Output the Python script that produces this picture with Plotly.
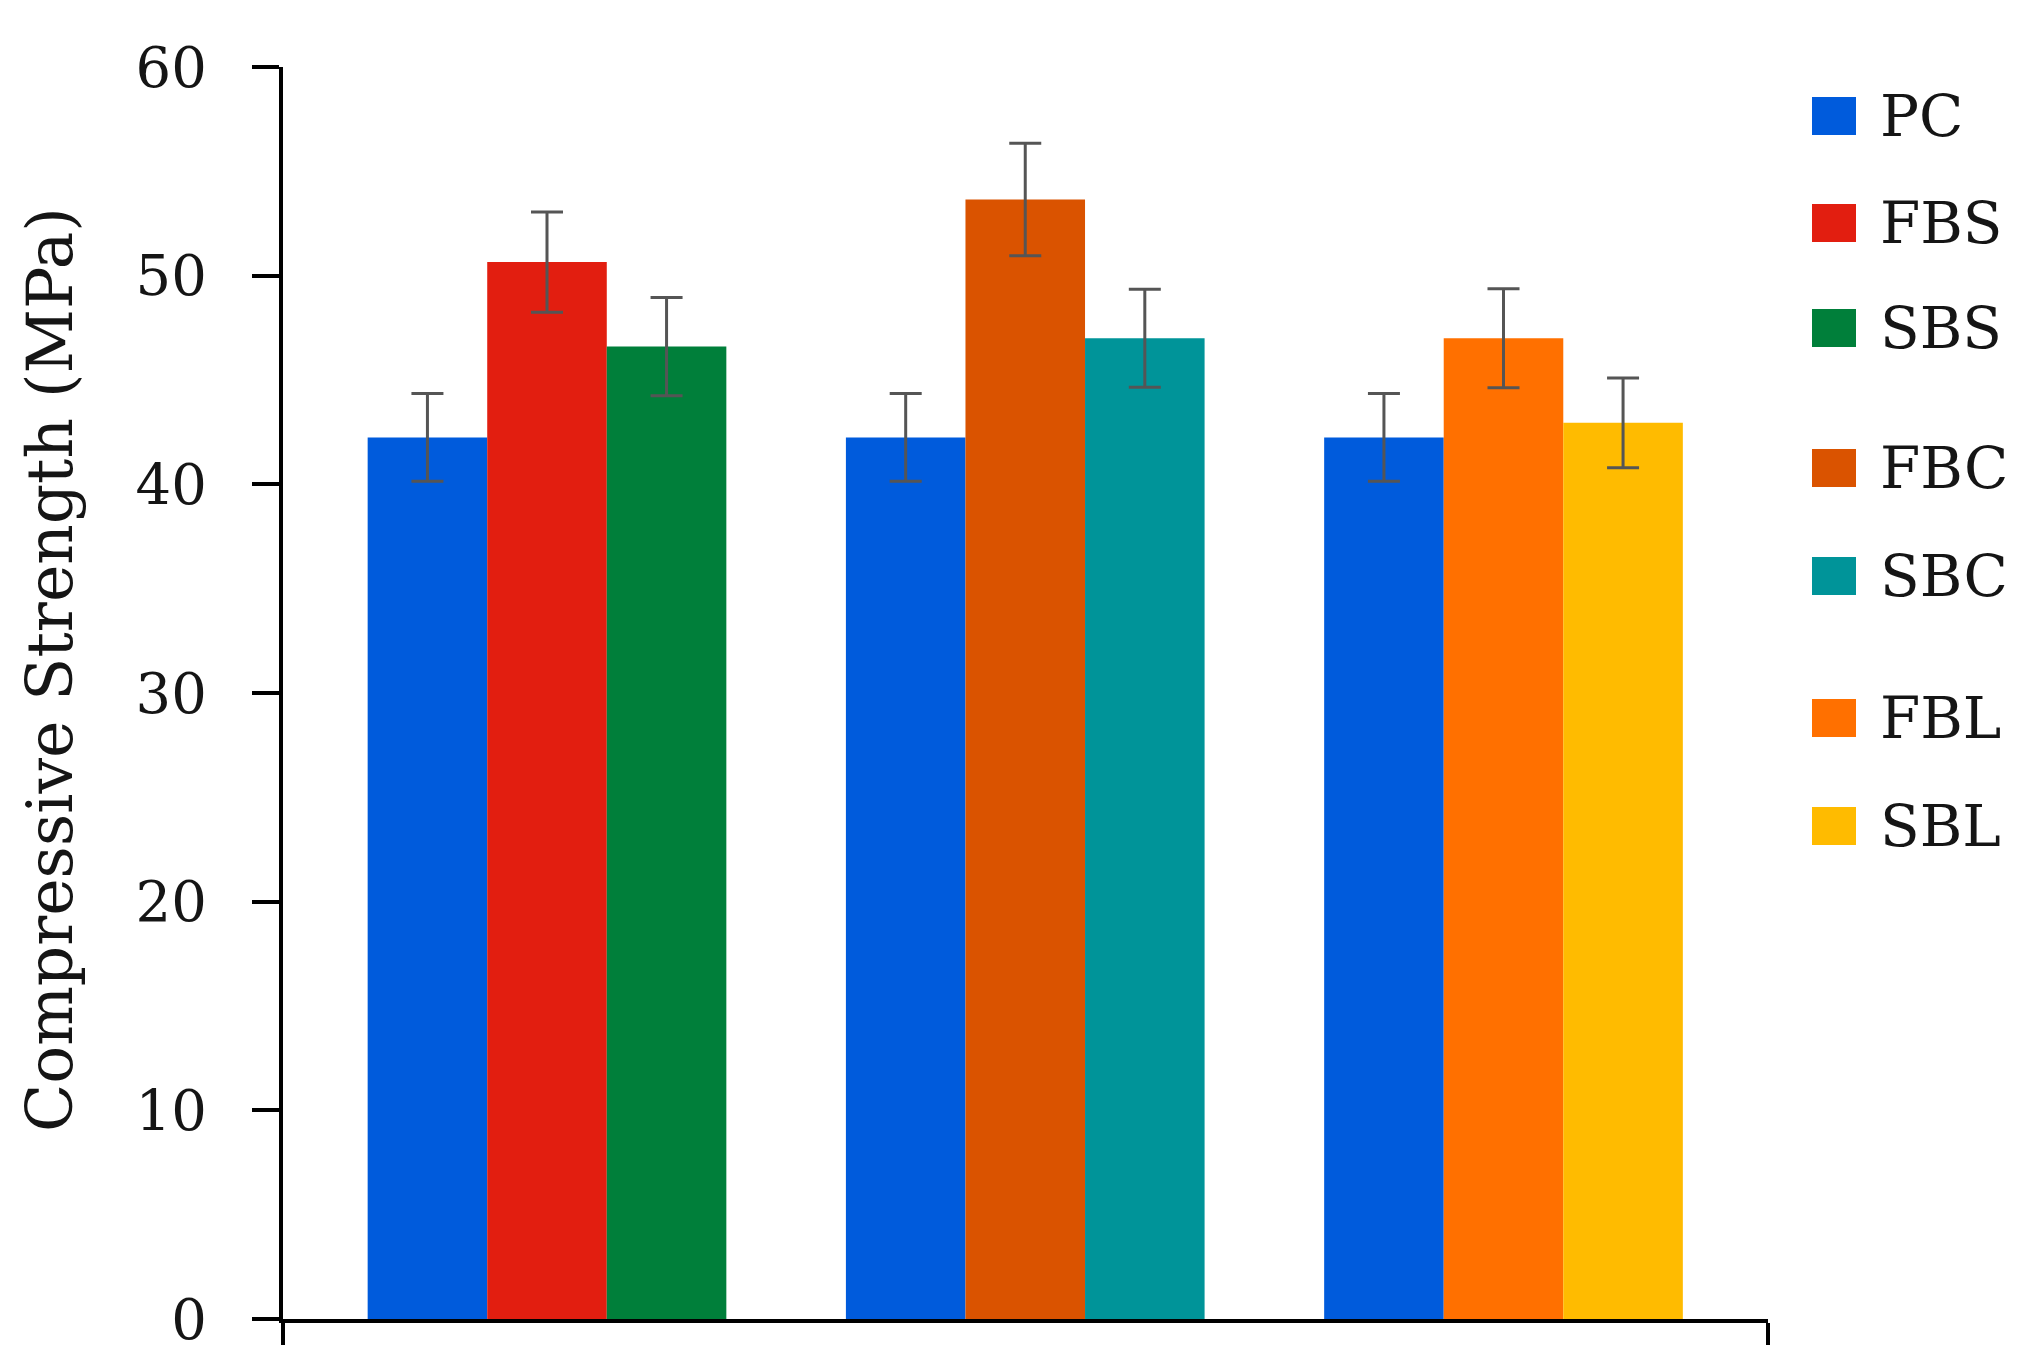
import plotly.graph_objects as go

# ---- data ----
group_positions = [0, 1, 2]

series_names = ["PC", "FBS", "SBS", "FBC", "SBC", "FBL", "SBL"]
series_colors = ["#005BDC", "#E21E10", "#007F3A", "#DA5300", "#009499", "#FF7000", "#FFBB00"]

pc_values = [42.25, 42.25, 42.25]
pc_errors = [2.1, 2.1, 2.1]

fb_names = ["FBS", "FBC", "FBL"]
fb_values = [50.65, 53.65, 47.0]
fb_errors = [2.4, 2.7, 2.37]

sb_names = ["SBS", "SBC", "SBL"]
sb_values = [46.6, 47.0, 42.95]
sb_errors = [2.35, 2.35, 2.15]

y_ticks = [0, 10, 20, 30, 40, 50, 60]
y_title = "Compressive Strength (MPa)"

# ---- layout geometry (pixels); page has an 8px body margin ----
OFF = 8
W, H = 2023, 1364
L, T, PW, PH = 275, 59, 1485, 1252
R = W - L - PW
B = H - T - PH

def px_x(page_x):
    return (page_x - OFF - L) / PW

def px_y(page_y):
    return 1 - (page_y - OFF - T) / PH

color_of = dict(zip(series_names, series_colors))
BAR_W = 0.25
ERR = dict(color="#555555", thickness=3, width=16)
TXT = "#151515"

fig = go.Figure()

fig.add_trace(go.Bar(
    x=group_positions, y=pc_values, name="PC",
    width=BAR_W, offset=-0.375,
    marker=dict(color=color_of["PC"], line=dict(width=0)),
    error_y=dict(type="data", array=pc_errors, visible=True, **ERR),
    showlegend=False,
))

for names, vals, errs, off in [(fb_names, fb_values, fb_errors, -0.125),
                               (sb_names, sb_values, sb_errors, 0.125)]:
    for i, (n, v, e) in enumerate(zip(names, vals, errs)):
        fig.add_trace(go.Bar(
            x=[group_positions[i]], y=[v], name=n,
            width=BAR_W, offset=off,
            marker=dict(color=color_of[n], line=dict(width=0)),
            error_y=dict(type="data", array=[e], visible=True, **ERR),
            showlegend=False,
        ))

# ---- manual legend (large swatches) ----
legend_centers_px = [116, 223, 328, 468, 576, 718, 826]
shapes = []
annotations = []
for n, c, cy in zip(series_names, series_colors, legend_centers_px):
    shapes.append(dict(type="rect", xref="paper", yref="paper",
                       x0=px_x(1812), x1=px_x(1856),
                       y0=px_y(cy + 19), y1=px_y(cy - 19),
                       fillcolor=c, line=dict(width=0)))
    annotations.append(dict(xref="paper", yref="paper", x=px_x(1878), y=px_y(cy),
                            xanchor="left", yanchor="middle", text=n, showarrow=False,
                            font=dict(family="DejaVu Serif", size=58, color=TXT)))

# y-axis title
annotations.append(dict(xref="paper", yref="paper", x=px_x(50), y=px_y(670),
                        xanchor="center", yanchor="middle", textangle=-90,
                        text=y_title, showarrow=False,
                        font=dict(family="DejaVu Serif", size=63, color=TXT)))

x_lo = -(547 - (L + OFF)) / 478.25
x_hi = x_lo + PW / 478.25

fig.update_layout(
    width=W, height=H,
    margin=dict(l=L, r=R, t=T, b=B, autoexpand=False),
    paper_bgcolor="white", plot_bgcolor="white",
    barmode="overlay",
    showlegend=False,
    shapes=shapes,
    annotations=annotations,
    font=dict(family="DejaVu Serif", color=TXT),
    xaxis=dict(
        range=[x_lo, x_hi], showgrid=False, zeroline=False,
        showline=True, linecolor="black", linewidth=4,
        tickmode="array", tickvals=[x_lo, x_hi], ticktext=["", ""],
        ticks="outside", ticklen=22, tickwidth=4, tickcolor="black",
        showticklabels=False,
    ),
    yaxis=dict(
        range=[0, 60], showgrid=False, zeroline=False,
        showline=True, linecolor="black", linewidth=4,
        tickmode="array", tickvals=y_ticks,
        ticks="outside", ticklen=27, tickwidth=4, tickcolor="black",
        tickfont=dict(family="DejaVu Serif", size=56, color=TXT),
        ticklabelstandoff=34,
        automargin=False,
    ),
)

fig.write_html("out.html")
